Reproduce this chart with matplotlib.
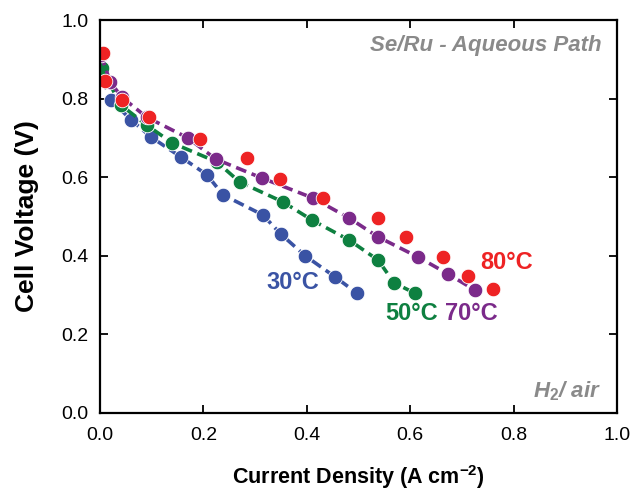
import matplotlib.pyplot as plt

plt.rcParams['font.family'] = ['Liberation Sans', 'DejaVu Sans']
plt.rcParams['mathtext.fontset'] = 'custom'
plt.rcParams['mathtext.rm'] = 'Liberation Sans:bold'
plt.rcParams['mathtext.it'] = 'Liberation Sans:bold:italic'
plt.rcParams['mathtext.bf'] = 'Liberation Sans:bold'

# 30 C
x30 = [0.005, 0.021, 0.060, 0.099, 0.157, 0.207, 0.238, 0.315, 0.350, 0.397, 0.455, 0.497]
y30 = [0.850, 0.797, 0.746, 0.702, 0.651, 0.606, 0.555, 0.504, 0.455, 0.400, 0.346, 0.305]
# 50 C
x50 = [0.003, 0.040, 0.090, 0.140, 0.226, 0.270, 0.354, 0.410, 0.482, 0.538, 0.569, 0.609]
y50 = [0.878, 0.784, 0.733, 0.687, 0.639, 0.588, 0.537, 0.491, 0.440, 0.389, 0.331, 0.305]
# 70 C
x70 = [0.002, 0.020, 0.042, 0.090, 0.170, 0.224, 0.313, 0.412, 0.482, 0.538, 0.615, 0.673, 0.725]
y70 = [0.911, 0.842, 0.804, 0.753, 0.700, 0.646, 0.598, 0.547, 0.496, 0.448, 0.397, 0.354, 0.313]
# 80 C
x80 = [0.005, 0.010, 0.043, 0.095, 0.193, 0.284, 0.348, 0.431, 0.538, 0.592, 0.663, 0.712, 0.760]
y80 = [0.915, 0.845, 0.797, 0.753, 0.697, 0.649, 0.595, 0.547, 0.496, 0.448, 0.397, 0.349, 0.316]

blue = '#3a53a4'
green = '#0e8040'
purple = '#7b2a8a'
red = '#ee2324'
grey = '#8a8a8a'

fig = plt.figure(figsize=(6.3, 4.92), dpi=100)
ax = fig.add_axes([0.1587, 0.1606, 0.8206, 0.7987])

ms = 10.5
style = dict(lw=2.6, dashes=(3, 1.6), ms=ms, mec='white', mew=0.6)
ax.plot(x30, y30, '--o', color=blue, **style)
ax.plot(x50, y50, '--o', color=green, **style)
ax.plot(x70, y70, '--o', color=purple, **style)
ax.plot(x80, y80, 'o', color=red, ms=ms, mec='white', mew=0.6)

lab = dict(fontsize=17, fontweight='bold', ha='center', va='center')
ax.text(0.373, 0.331, '30°C', color=blue, **lab)
ax.text(0.602, 0.254, '50°C', color=green, **lab)
ax.text(0.718, 0.254, '70°C', color=purple, **lab)
ax.text(0.787, 0.382, '80°C', color=red, **lab)

ax.text(0.97, 0.935, 'Se/Ru - Aqueous Path', color=grey, fontsize=16, fontweight='bold',
        style='italic', ha='right', va='center', transform=ax.transAxes)
ax.text(0.97, 0.055, r'H$_{\mathit{2}}$/ air', color=grey, fontsize=16,
        fontweight='bold', style='italic', ha='right', va='center', transform=ax.transAxes)

ax.set_xlim(0, 1.0)
ax.set_ylim(0, 1.0)
ax.set_xticks([0.0, 0.2, 0.4, 0.6, 0.8, 1.0])
ax.set_yticks([0.0, 0.2, 0.4, 0.6, 0.8, 1.0])
ax.xaxis.set_major_formatter(plt.FormatStrFormatter('%.1f'))
ax.yaxis.set_major_formatter(plt.FormatStrFormatter('%.1f'))
ax.tick_params(direction='in', length=6, width=1.3, labelsize=14, top=True, right=True)
ax.tick_params(axis='x', pad=10)
ax.tick_params(axis='y', pad=8)
for s in ax.spines.values():
    s.set_linewidth(1.6)

ax.set_xlabel('Current Density (A cm$^{-2}$)', fontsize=15.5, fontweight='bold', labelpad=14)
ax.set_ylabel('Cell Voltage (V)', fontsize=19, fontweight='bold', labelpad=16)

fig.savefig('out.png', dpi=100)
